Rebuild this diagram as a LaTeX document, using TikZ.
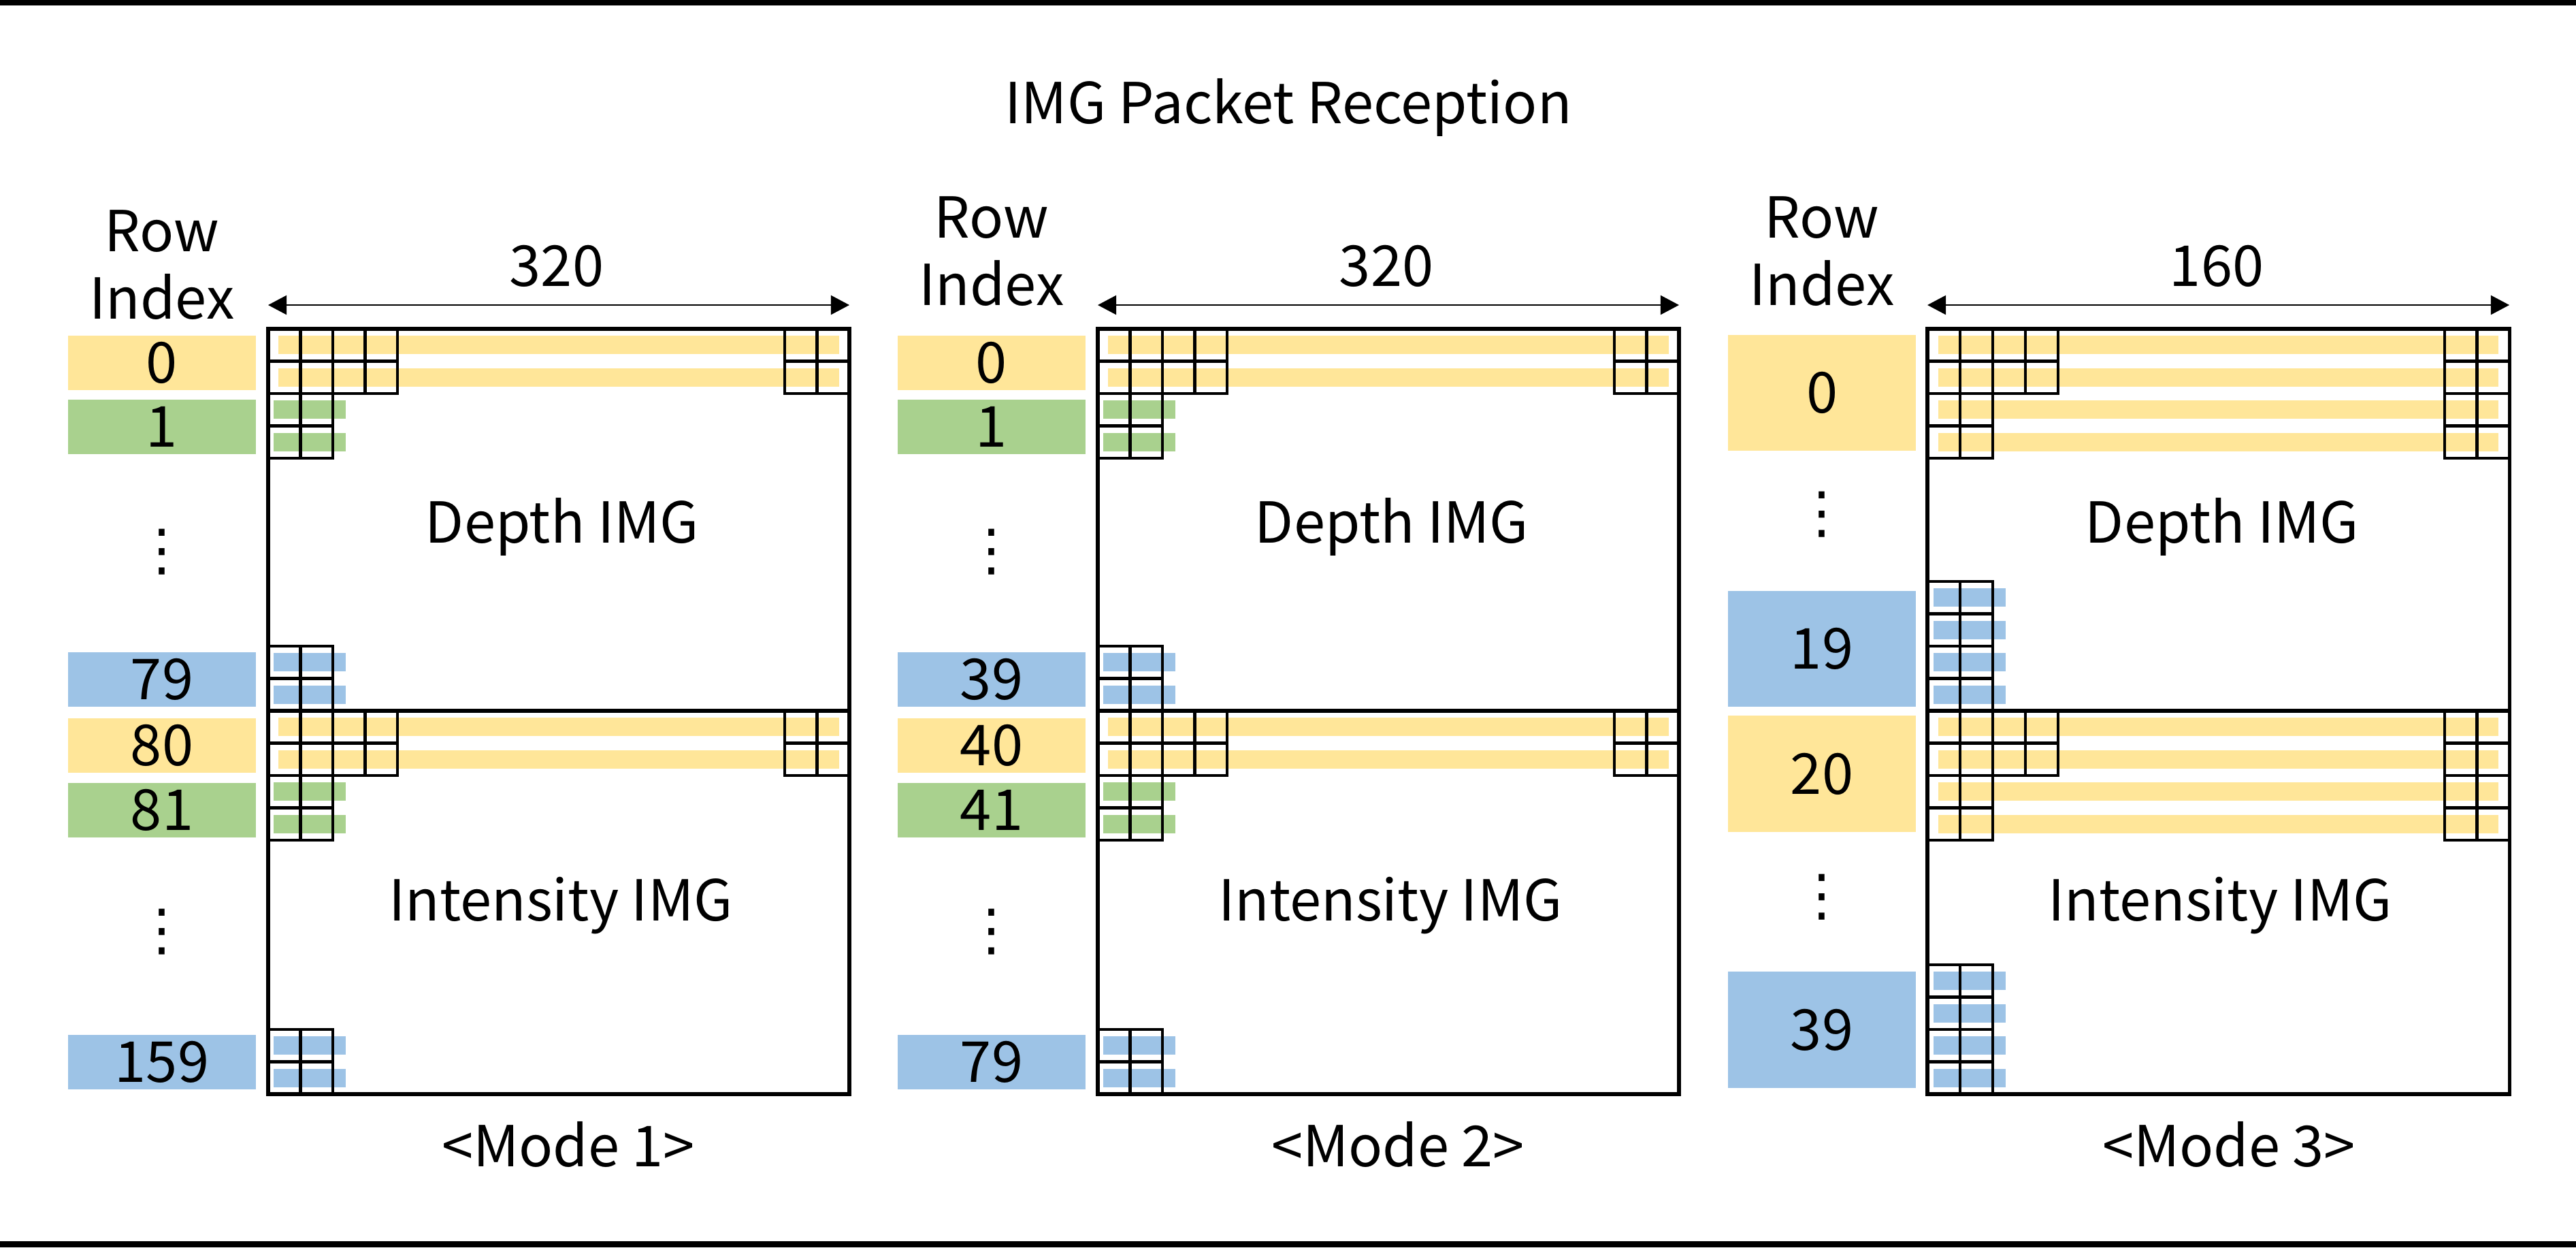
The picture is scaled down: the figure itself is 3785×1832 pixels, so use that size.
\documentclass[tikz,border=0pt]{standalone}
\usepackage{fontspec}
\setmainfont{Noto Sans CJK KR}
\newfontfamily\dotsfont{DejaVu Sans}
\usetikzlibrary{arrows.meta,positioning,calc}
\definecolor{Gold}{HTML}{FFE699}
\definecolor{Leaf}{HTML}{A9D18E}
\definecolor{Sky}{HTML}{9DC3E6}
\tikzset{
  imgframe/.style={draw=black,line width=1.45pt},
  pktcell/.style={draw=black,line width=1.35pt},
  dimarr/.style={{Triangle[length=7.7pt,width=8pt]}-{Triangle[length=7.7pt,width=8pt]},line width=0.65pt},
  lbl/.style={font=\fontsize{23.6}{28.2}\selectfont,inner sep=0pt},
  idxbox/.style={lbl,fill=#1,minimum width=2.76cm,minimum height=0.8cm},
  tallbox/.style={minimum height=1.7cm}
}
% block of packet cells: x, y, columns, rows, cell width
\newcommand{\cellblock}[5]{%
  \foreach \ci in {1,...,#3}
    \foreach \cj in {1,...,#4}
      \draw[pktcell] ({#1+(\ci-1)*#5},{#2+(\cj-1)*47.5}) rectangle ++(#5,47.5);}

\begin{document}
\begin{tikzpicture}[x=0.01cm,y=-0.01cm]
  \useasboundingbox (0,0) rectangle (3785,1832);
  \fill (0,0) rectangle (3785,8);
  \fill (0,1823) rectangle (3785,1832);
  \node[lbl,anchor=base] (title) at (1893,181) {IMG Packet Reception};

  % mode 1 and 2: two rows per packet
  \foreach \dx/\ry/\m/\ra/\rb/\rc/\rd in {0/389.5/1/79/80/81/159,1219/369.5/2/39/40/41/79}{
    \begin{scope}[xshift=\dx*0.01cm]
      \foreach \yt/\yb in {483/1044,1044/1607}{
        \foreach \rr in {0,1}{
          \fill[Gold] (409,{\yt+\rr*47.5+10}) rectangle (1233,{\yt+\rr*47.5+37});
          \fill[Leaf] (402,{\yt+95+\rr*47.5+10}) rectangle (508,{\yt+95+\rr*47.5+37});
          \fill[Sky] (402,{\yb-95+\rr*47.5+10}) rectangle (508,{\yb-95+\rr*47.5+37});
        }
        \cellblock{394}{\yt}{4}{2}{47.5}
        \cellblock{394}{\yt+95}{2}{2}{47.5}
        \cellblock{1153}{\yt}{2}{2}{47.5}
        \cellblock{394}{\yb-95}{2}{2}{47.5}
      }
      \draw[imgframe] (394,483) rectangle (1248,1607);
      \draw[imgframe] (394,1044) -- (1248,1044);
      \coordinate (wl\m) at (394,448);
      \coordinate (wr\m) at (1248,448);
      \draw[dimarr] (wl\m) -- (wr\m);
      \node[lbl,anchor=base] (cols\m) at (818,420) {320};
      \node[lbl,align=center] (row\m) at (238,\ry) {Row\\Index};
      \node[idxbox=Gold] (ia\m) at (238,533) {0};
      \node[idxbox=Leaf] (ib\m) at (238,627) {1};
      \node[lbl] (da\m) at (238,811) {\dotsfont ⋮};
      \node[idxbox=Sky] (ic\m) at (238,998) {\ra};
      \node[idxbox=Gold] (id\m) at (238,1095) {\rb};
      \node[idxbox=Leaf] (ie\m) at (238,1190) {\rc};
      \node[lbl] (db\m) at (238,1369) {\dotsfont ⋮};
      \node[idxbox=Sky] (if\m) at (238,1560) {\rd};
      \node[lbl,anchor=base] (dep\m) at (826,797) {Depth IMG};
      \node[lbl,anchor=base] (int\m) at (824,1352) {Intensity IMG};
      \node[lbl,anchor=base] (mode\m) at (835,1713) {<Mode \m>};
    \end{scope}
  }

  % mode 3: four rows per packet
  \foreach \yt/\yb in {483/1044,1044/1607}{
    \foreach \rr in {0,...,3}{
      \fill[Gold] (2848,{\yt+\rr*47.5+10}) rectangle (3671,{\yt+\rr*47.5+37});
      \fill[Sky] (2841,{\yb-190+\rr*47.5+10}) rectangle (2947,{\yb-190+\rr*47.5+37});
    }
    \cellblock{2832}{\yt}{4}{2}{48}
    \cellblock{2832}{\yt+95}{2}{2}{48}
    \cellblock{3592}{\yt}{2}{4}{47.5}
    \cellblock{2832}{\yb-190}{2}{4}{48}
  }
  \draw[imgframe] (2832,483) rectangle (3687,1607);
  \draw[imgframe] (2832,1044) -- (3687,1044);
  \coordinate (wl3) at (2832,448);
  \coordinate (wr3) at (3687,448);
  \draw[dimarr] (wl3) -- (wr3);
  \node[lbl,anchor=base] (cols3) at (3257,420) {160};
  \node[lbl,align=center] (row3) at (2677,369.5) {Row\\Index};
  \node[idxbox=Gold,tallbox] (ia3) at (2677,577) {0};
  \node[lbl] (da3) at (2677,756) {\dotsfont ⋮};
  \node[idxbox=Sky,tallbox] (ic3) at (2677,953) {19};
  \node[idxbox=Gold,tallbox] (id3) at (2677,1136.5) {20};
  \node[lbl] (db3) at (2677,1318) {\dotsfont ⋮};
  \node[idxbox=Sky,tallbox] (if3) at (2677,1512.5) {39};
  \node[lbl,anchor=base] (dep3) at (3265,797) {Depth IMG};
  \node[lbl,anchor=base] (int3) at (3262,1352) {Intensity IMG};
  \node[lbl,anchor=base] (mode3) at (3275,1713) {<Mode 3>};
\end{tikzpicture}
\end{document}
